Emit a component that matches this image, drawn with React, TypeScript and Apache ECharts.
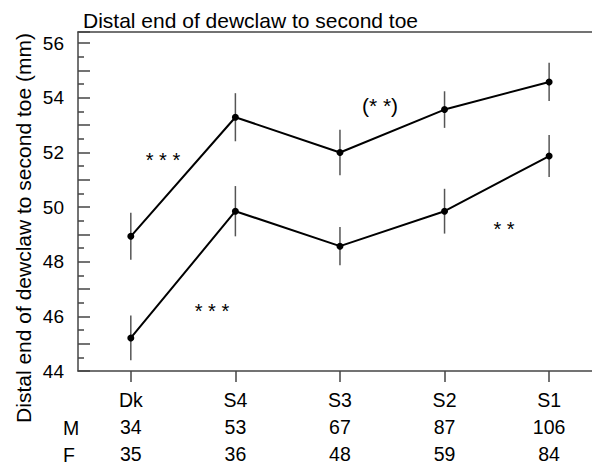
import React, { useEffect, useRef } from "react";
import * as echarts from "echarts";

const categories = ["Dk", "S4", "S3", "S2", "S1"];
const maleMean = [48.93, 53.29, 52.0, 53.57, 54.58];
const maleErr = [0.86, 0.88, 0.83, 0.67, 0.7];
const femaleMean = [45.21, 49.85, 48.57, 49.85, 51.87];
const femaleErr = [0.82, 0.92, 0.7, 0.82, 0.77];
const maleN = [34, 53, 67, 87, 106];
const femaleN = [35, 36, 48, 59, 84];
const yTickLabels = [44, 46, 48, 50, 52, 54, 56];

const FONT = "'Liberation Sans', Arial, Helvetica, sans-serif";
const AXIS_COLOR = "#444";
const ERR_COLOR = "#555";

export default function App() {
  const ref = useRef<HTMLDivElement>(null);
  useEffect(() => {
    if (!ref.current) return;
    const chart = echarts.init(ref.current, null, { renderer: "svg" });
    const idx = categories.map((_, i) => i);
    const errData = (mean: number[], err: number[]) =>
      mean.map((m, i) => [i, m - err[i], m + err[i]]);
    const errSeries = (name: string, mean: number[], err: number[]) => ({
      type: "custom",
      name,
      z: 1,
      renderItem: (params: any, api: any) => {
        const x = api.value(0);
        const lo = api.coord([x, api.value(1)]);
        const hi = api.coord([x, api.value(2)]);
        return {
          type: "line",
          shape: { x1: lo[0], y1: lo[1], x2: hi[0], y2: hi[1] },
          style: { stroke: ERR_COLOR, lineWidth: 1.5 },
        };
      },
      encode: { x: 0, y: [1, 2] },
      data: errData(mean, err),
    });
    const lineSeries = (name: string, mean: number[]) => ({
      type: "line",
      name,
      z: 3,
      data: mean.map((m, i) => [i, m]),
      symbol: "circle",
      symbolSize: 7,
      lineStyle: { color: "#000", width: 2 },
      itemStyle: { color: "#000" },
    });
    const txt = (text: string, x: number, y: number, extra: any = {}) => ({
      type: "text",
      x,
      y,
      style: {
        text,
        fill: "#000",
        font: `20px ${FONT}`,
        align: "center",
        verticalAlign: "middle",
        ...extra,
      },
    });
    chart.setOption({
      animation: false,
      backgroundColor: "#fff",
      grid: { left: 78, right: 0, top: 32, bottom: 94 },
      xAxis: [
        {
          type: "value",
          min: -0.505,
          max: 4.41,
          splitLine: { show: false },
          axisLine: { show: true, onZero: false, lineStyle: { color: AXIS_COLOR, width: 1.5 } },
          axisTick: {
            show: true,
            length: 11,
            customValues: idx,
            lineStyle: { color: AXIS_COLOR, width: 1.5 },
          },
          axisLabel: {
            show: true,
            customValues: idx,
            margin: 15,
            color: "#000",
            fontFamily: FONT,
            fontSize: 19.5,
            lineHeight: 27,
            formatter: (v: number) => {
              const i = Math.round(v);
              return `${categories[i]}\n${maleN[i]}\n${femaleN[i]}`;
            },
          },
        },
        {
          type: "value",
          min: -0.505,
          max: 4.41,
          position: "top",
          splitLine: { show: false },
          axisLine: { show: true, onZero: false, lineStyle: { color: AXIS_COLOR, width: 1.5 } },
          axisTick: { show: false },
          axisLabel: { show: false },
        },
      ],
      yAxis: {
        type: "value",
        min: 44,
        max: 56.41,
        interval: 1,
        splitLine: { show: false },
        axisLine: { show: true, onZero: false, lineStyle: { color: AXIS_COLOR, width: 1.5 } },
        axisTick: { show: true, inside: true, length: 12, lineStyle: { color: AXIS_COLOR, width: 1.5 } },
        minorTick: { show: true, splitNumber: 2, length: 6, lineStyle: { color: AXIS_COLOR, width: 1.5 } },
        axisLabel: {
          margin: 14,
          color: "#000",
          fontFamily: FONT,
          fontSize: 19,
          formatter: (v: number) => (yTickLabels.includes(v) ? String(v) : ""),
        },
      },
      series: [
        errSeries("Male SE", maleMean, maleErr),
        errSeries("Female SE", femaleMean, femaleErr),
        lineSeries("Male", maleMean),
        lineSeries("Female", femaleMean),
      ],
      graphic: [
        txt("Distal end of dewclaw to second toe", 83, 20, { align: "left", font: `21px ${FONT}` }),
        {
          type: "text",
          x: 23,
          y: 228,
          rotation: Math.PI / 2,
          style: {
            text: "Distal end of dewclaw to second toe (mm)",
            fill: "#000",
            font: `21px ${FONT}`,
            align: "center",
            verticalAlign: "middle",
          },
        },
        txt("M", 63, 428, { align: "left", font: `19.5px ${FONT}` }),
        txt("F", 63, 455, { align: "left", font: `19.5px ${FONT}` }),
        txt("* * *", 163, 159.5),
        txt("(* *)", 380, 105, { font: `21px ${FONT}` }),
        txt("* * *", 212, 311),
        txt("* *", 504, 228.5),
      ],
    });
    return () => chart.dispose();
  }, []);
  return (
    <div
      ref={ref}
      style={{ position: "absolute", left: 0, top: 0, width: 592, height: 467 }}
    />
  );
}
